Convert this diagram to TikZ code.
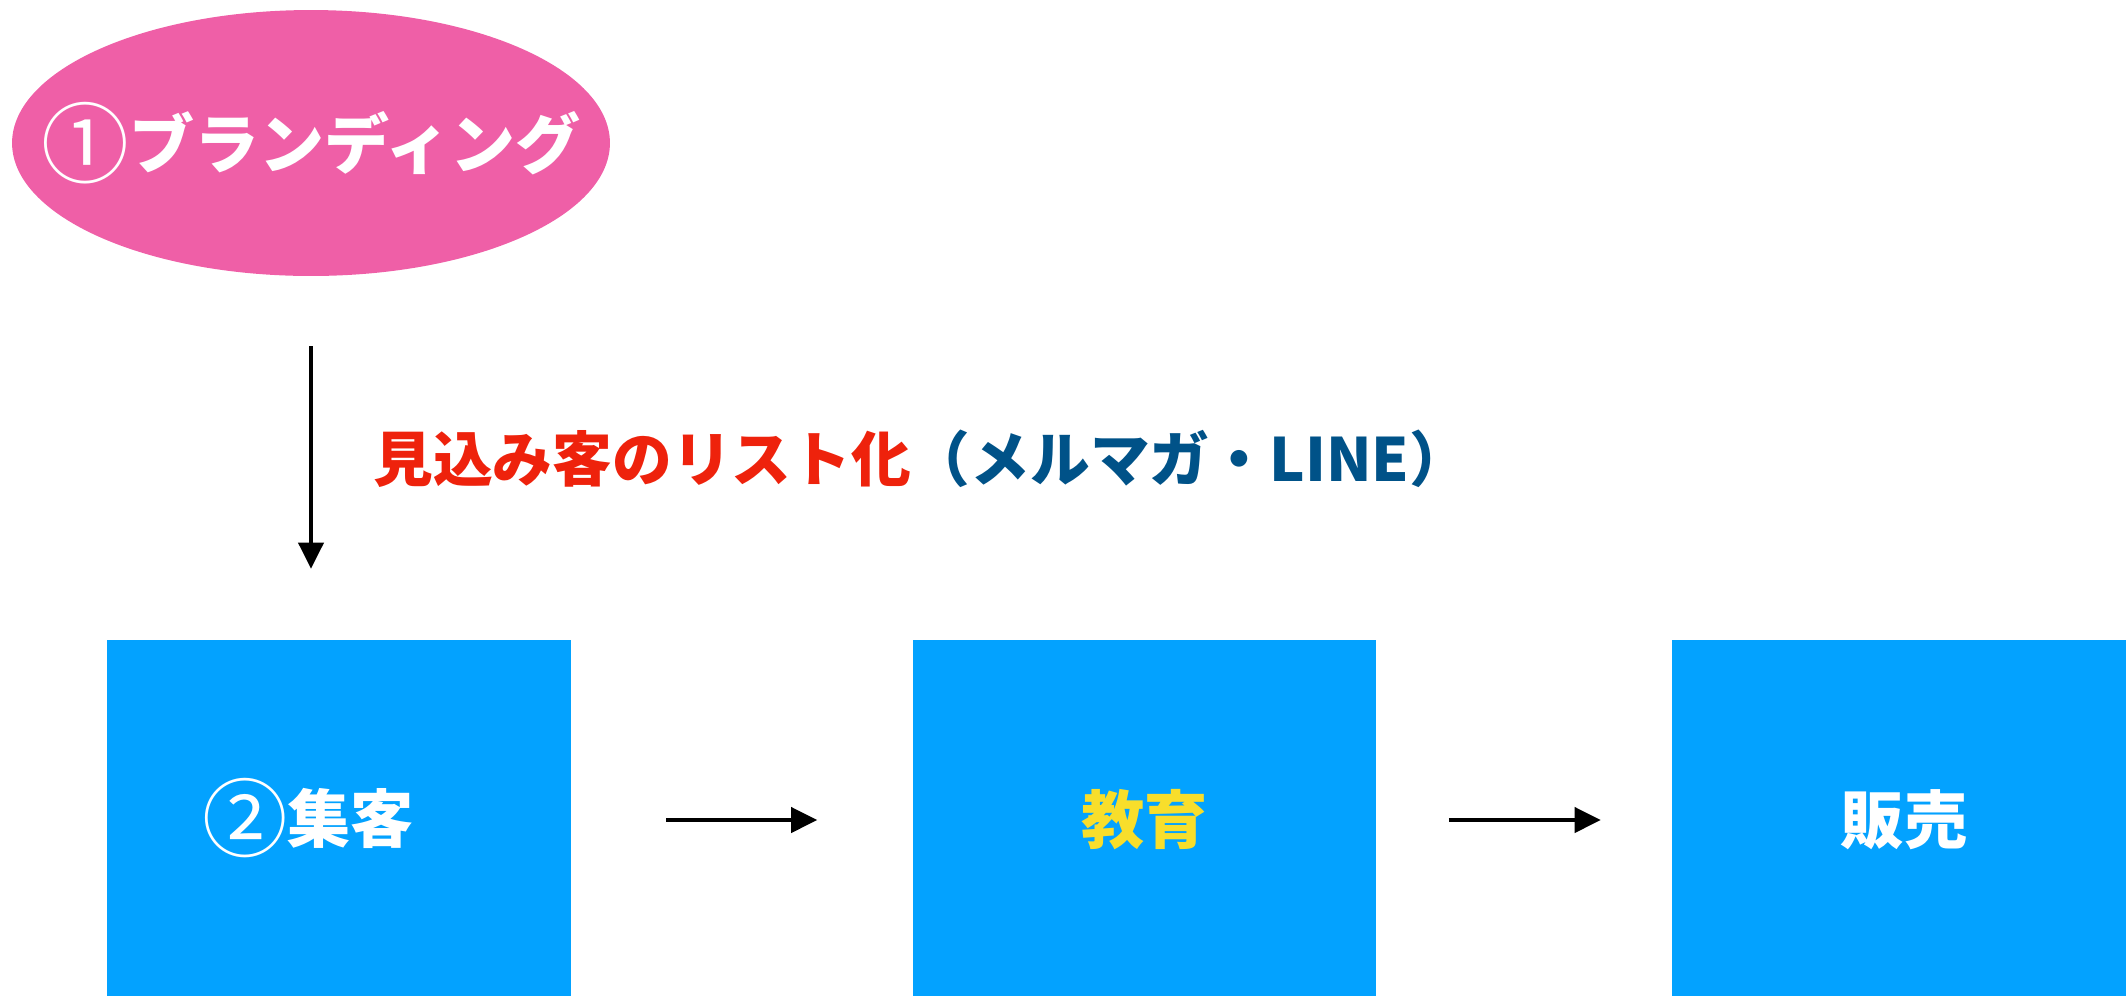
\documentclass[tikz,border=0pt]{standalone}
\usepackage{fontspec}
\setmainfont{Noto Sans CJK JP}
\usetikzlibrary{shapes.geometric,arrows.meta}

\definecolor{brandpink}{HTML}{EF5FA7}
\definecolor{stageblue}{HTML}{03A2FF}
\definecolor{listred}{HTML}{EE220C}
\definecolor{linenavy}{HTML}{005288}
\definecolor{stageyellow}{HTML}{F8DE2B}

\newcommand{\stepmark}[1]{\raisebox{-0.12em}{\scalebox{1.35}{\mdseries #1}}}

\begin{document}
\begin{tikzpicture}[x=0.02cm,y=-0.02cm,
  stagebox/.style={fill=stageblue,minimum width=9.28cm,minimum height=7.2cm,inner sep=0pt},
  bigtext/.style={font=\bfseries\fontsize{36}{36}\selectfont,inner sep=0pt},
  flow/.style={line width=2.2pt,-{Triangle[length=0.52cm,width=0.5cm]}}]

\useasboundingbox (0,0) rectangle (2126,995);

% branding
\node[ellipse,fill=brandpink,minimum width=11.96cm,minimum height=5.32cm,inner sep=0pt] (brand) at (311,143) {};
\node[bigtext,text=white,font=\bfseries\fontsize{37}{37}\selectfont] (brandtext) at (brand) {\stepmark{①}ブランディング};

% the three stages
\node[stagebox] (box1) at (339,820) {};
\node[stagebox,bigtext,text=stageyellow] (box2) at (1144.5,820) {教育};
\node[stagebox,bigtext,text=white] (box3) at (1904,820) {販売};
\node[bigtext,text=white] (box1text) at (308,818) {\stepmark{②}集客};

\node[anchor=west,inner sep=0pt,font=\bfseries\fontsize{34}{34}\selectfont] (listnote) at (373,459)
  {\textcolor{listred}{見込み客のリスト化}\textcolor{linenavy}{（メルマガ・LINE）}};

% arrows
\draw[flow,shorten <=1.4cm,shorten >=1.42cm] (brand.south) -- (brand.south |- box1.north);
\draw[flow,shorten <=1.9cm,shorten >=1.9cm] (box1) -- (box2);
\draw[flow,shorten <=1.44cm,shorten >=1.42cm] (box2) -- (box3);

\end{tikzpicture}
\end{document}
